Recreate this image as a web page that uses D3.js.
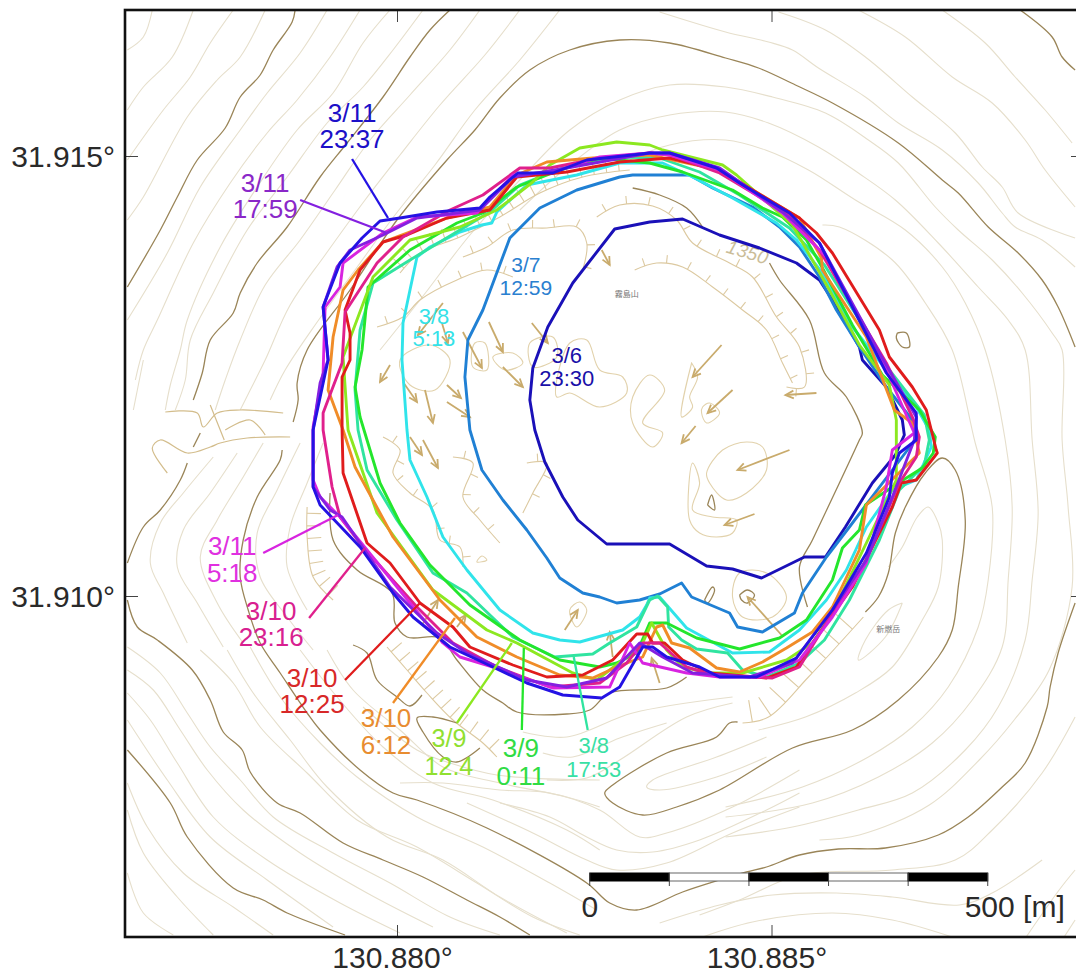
<!DOCTYPE html>
<html><head><meta charset="utf-8">
<style>html,body{margin:0;padding:0;background:#fff}svg{display:block}text{font-family:"Liberation Sans",Arial,sans-serif}</style>
<script src="https://cdn.jsdelivr.net/npm/d3@7/dist/d3.min.js"></script></head><body>
<script>
// Map axes
const lonTicks=[130.880,130.885];
const latTicks=[31.910,31.915];
// Local survey grid: [east, north] grid cells; graticule tie points below
const gridEastTie=[297,672];
const gridNorthTie=[404,844];

// Crater-lava outlines, one per observation
const obs0306=[[507,456],[570,456],[607,434],[633,431],[662,422],[705,443],[726,443],[746,473],[773,517],[796,545],[805,565],[803,580],[787,613],[763,640],[760,653],[733,700],[720,720],[697,737],[660,752],[620,765],[583,781],[550,778],[515,771],[473,717],[448,673],[433,632],[430,600],[435,570],[445,538],[463,503],[478,480]];
const obs0307=[[500,403],[517,397],[540,400],[560,406],[582,417],[592,403],[630,387],[638,373],[663,368],[695,387],[703,407],[727,443],[750,473],[793,530],[818,563],[813,580],[787,613],[760,653],[737,690],[720,723],[700,753],[680,773],[653,793],[613,812],[590,825],[533,825],[520,823],[477,810],[440,792],[410,762],[383,690],[368,660],[365,623],[370,570],[382,530],[403,500],[427,470],[447,442],[460,422],[483,407]];
const obs0308a=[[547,395],[540,383],[523,370],[480,358],[460,360],[433,367],[400,390],[367,430],[343,463],[327,503],[310,540],[307,570],[302,640],[303,677],[317,743],[330,753],[360,768],[382,775],[392,777],[397,788],[427,815],[477,825],[520,837],[563,837],[593,823],[633,802],[677,777],[697,760],[723,727],[753,673],[787,630],[817,593],[830,570],[832,553],[817,520],[793,510],[767,473],[747,430],[727,400],[700,370],[670,348],[633,347],[587,372],[560,403],[550,402]];
const obs0308b=[[297,480],[333,427],[367,407],[413,363],[455,343],[493,346],[510,357],[537,373],[550,400],[558,404],[568,393],[569,373],[582,360],[597,351],[628,347],[643,330],[667,323],[700,337],[725,360],[750,400],[780,460],[800,510],[825,535],[830,560],[825,585],[790,630],[760,680],[725,735],[690,772],[640,805],[600,828],[560,842],[520,843],[470,835],[420,815],[390,788],[350,764],[310,740],[273,717],[260,670],[255,610],[258,570],[267,530]];
const obs0309a=[[262,650],[255,613],[260,583],[280,517],[300,477],[330,435],[370,395],[420,360],[460,340],[500,333],[517,337],[537,347],[550,377],[567,377],[597,362],[640,351],[680,362],[707,380],[733,420],[743,452],[760,470],[766,495],[799,517],[823,532],[834,547],[836,563],[820,590],[783,625],[753,675],[723,732],[707,760],[683,783],[663,792],[633,810],[583,828],[550,837],[500,842],[460,830],[417,813],[383,787],[357,777],[310,750],[268,713]];
const obs0309b=[[450,835],[480,852],[517,858],[550,855],[563,850],[623,835],[637,825],[693,775],[730,710],[760,655],[790,615],[797,580],[797,555],[797,520],[767,457],[733,387],[713,357],[687,340],[643,327],[610,327],[583,333],[567,350],[552,377],[543,357],[527,343],[497,320],[473,327],[417,357],[387,370],[333,410],[277,487],[248,570],[243,643],[273,723],[310,760],[360,773],[397,790],[433,818]];
const obs0310a=[[258,730],[283,758],[347,782],[390,793],[417,825],[447,838],[493,842],[550,845],[620,830],[700,782],[722,742],[723,730],[767,663],[795,590],[813,577],[817,560],[820,547],[767,495],[760,450],[733,393],[713,368],[687,352],[663,338],[640,328],[617,332],[590,352],[572,357],[563,375],[557,373],[543,343],[517,333],[493,322],[460,325],[417,343],[377,363],[340,400],[293,463],[255,533],[243,570],[228,610],[233,663],[243,710]];
const obs0310b=[[245,690],[260,730],[283,758],[307,765],[347,782],[390,790],[417,823],[467,828],[520,838],[570,842],[620,830],[673,798],[700,782],[717,767],[733,747],[780,670],[790,643],[813,613],[827,590],[837,550],[838,547],[817,520],[802,517],[793,493],[753,413],[713,357],[697,333],[667,322],[610,327],[583,340],[565,357],[553,357],[548,366],[537,366],[513,340],[483,325],[447,323],[413,335],[370,353],[353,373],[320,397],[290,437],[267,457],[243,527],[242,570],[242,623],[250,640],[250,667]];
const obs0310c=[[245,688],[277,737],[303,763],[350,790],[383,805],[420,832],[450,832],[500,842],[550,847],[570,845],[620,827],[687,787],[720,750],[787,637],[813,583],[820,563],[817,543],[800,517],[767,440],[733,387],[700,333],[673,322],[613,325],[587,333],[560,357],[543,357],[527,337],[500,317],[450,313],[397,333],[353,357],[317,393],[263,453],[240,483],[232,513],[223,570],[223,587],[242,637]];
const obs0311a=[[243,737],[283,767],[317,783],[377,787],[413,825],[453,828],[500,843],[550,847],[570,845],[620,830],[683,787],[727,743],[787,630],[815,567],[793,550],[787,513],[767,437],[733,383],[700,340],[660,323],[620,323],[587,327],[543,337],[530,357],[510,313],[453,312],[393,333],[360,343],[343,357],[310,397],[267,450],[240,483],[220,503],[213,520],[213,573],[223,627],[225,693],[240,713]];
const obs0311b=[[250,750],[283,765],[317,782],[380,790],[413,823],[467,832],[550,847],[570,847],[620,832],[683,788],[720,757],[780,647],[817,583],[815,560],[793,503],[767,440],[733,390],[693,337],[650,323],[593,327],[563,343],[540,357],[507,322],[467,313],[427,320],[367,347],[337,367],[290,413],[242,483],[230,490],[213,513],[213,570],[220,617],[228,640],[223,693],[237,733]];
const obs0311c=[[280,779],[300,782],[337,788],[380,792],[390,803],[418,827],[453,827],[487,840],[550,847],[570,847],[617,832],[640,817],[690,787],[720,757],[753,693],[787,627],[817,587],[817,560],[800,547],[793,527],[790,503],[767,447],[733,390],[697,342],[657,323],[620,323],[600,333],[567,343],[553,353],[543,353],[520,313],[502,302],[463,305],[427,317],[393,333],[350,353],[313,383],[293,407],[260,453],[220,495],[213,513],[213,570],[228,640],[223,693],[240,737],[262,762]];

const obsSeries=[obs0306,obs0307,obs0308a,obs0308b,obs0309a,obs0309b,obs0310a,obs0310b,obs0310c,obs0311a,obs0311b,obs0311c];
const obsLines=[["3/6","23:30"],["3/7","12:59"],["3/8","5:13"],["3/8","17:53"],["3/9","0:11"],["3/9","12.4"],["3/10","6:12"],["3/10","12:25"],["3/10","23:16"],["3/11","5:18"],["3/11","17:59"],["3/11","23:37"]];
const obsColors=["#1a10b8","#2080d4","#30e4ea","#30e4a0","#24e62c","#8ce820","#f08c28","#e01c1c","#e0208c","#d824e0","#8420e0","#2412e4"];
const labelColors=["#1a10a8","#2a80d0","#34e2e8","#38e0a4","#30dc44","#90e030","#e88c30","#d82828","#d82090","#e030e0","#8a28c8","#1c10c8"];
const labelSizes=[22,21,22,22,26,25,26,26,26,26,26,26];
// label anchor: [east, north line 1, north line 2]
const labelAnchors=[[467,637,614],[426,728,705],[334,676,654],[494,247,223],[421,243,215],[349,253,225],[286,273,246],[212,313,287],[171,380,354],[132,445,418],[165,808,782],[252,878,852]];
// leader: from label to outline, null when there is none
const leaderLines=[null,null,null,[[488,270],[474,343]],[[422,270],[424,352]],[[357,277],[412,357]],[[293,297],[355,382]],[[245,320],[320,397]],[[209,382],[265,452]],[[163,447],[238,485]],[[200,800],[287,767]],[[252,841],[288,782]]];

// Index contours
const indexContours=[
[[195,990],[192,978],[173,950],[160,925],[140,903],[125,872],[97,840],[77,803],[60,770],[27,713]],
[[350,990],[330,970],[310,943],[283,903],[247,857],[220,823],[187,773],[157,737],[140,707],[133,687],[110,660],[102,627],[93,600]],
[[100,567],[93,553]],
[[87,537],[80,520],[60,490],[43,473],[27,437]],
[[193,578],[198,600],[197,617],[207,650],[250,710],[297,780],[347,840],[375,870],[400,902],[430,930],[470,950],[520,960],[570,957],[626,942],[659,932],[696,915],[733,897],[799,857],[843,820],[859,807],[889,773],[919,747],[943,720],[959,693],[976,653]],
[[182,550],[180,540],[157,503],[143,460],[140,423],[148,390],[160,357],[180,327],[207,287],[220,270],[260,230],[293,207],[317,200],[387,172],[487,117],[510,97],[537,90],[583,108],[620,120],[647,128],[667,133],[700,145],[739,151],[786,152],[839,165],[869,183],[903,213],[926,237],[948,293],[951,313],[959,347],[976,397]],
[[27,400],[37,373],[57,360],[92,330],[110,300],[123,268],[142,250],[150,228],[177,197],[200,187],[243,157],[283,140],[323,123],[367,100],[400,83],[430,65]],
[[27,250],[70,197],[87,163],[133,112],[163,100],[187,87],[245,65]],
[[921,990],[953,963],[963,943],[976,930]],
[[533,812],[560,805],[587,792],[603,773]],
[[670,737],[680,720],[710,680],[725,627],[747,603],[763,567],[760,560],[740,517],[713,460],[700,433],[708,393]],
[[766,388],[779,403],[789,427],[796,467],[806,493],[826,527],[843,542],[856,530],[866,480],[859,413],[853,370],[839,343],[799,300],[753,270],[693,252],[620,210],[577,193],[543,185],[513,197],[505,207],[513,215],[567,247],[617,263],[630,277],[638,278]],
[[230,507],[233,460],[257,430],[292,407],[295,377],[307,363],[340,362],[357,340],[383,310],[403,297],[417,288],[467,286],[490,290],[510,307],[567,312],[587,323]],
[[253,355],[267,347],[277,320],[297,303],[310,294],[322,305]],
[[380,252],[357,238],[343,243],[323,268],[317,282],[333,283],[357,277]],
[[798,667],[807,667],[810,653],[803,653],[797,662],[798,667]],
[[608,495],[615,490],[612,505],[608,495]],
[[640,405],[648,410],[655,405],[648,397],[642,400],[640,405]],
[[605,400],[613,413],[615,410],[608,397],[605,400]]
];

// Intermediate contours
const minorContours=[
[[52,990],[43,963],[27,950]],
[[93,990],[72,943],[43,913],[27,890]],
[[133,990],[110,957],[90,923],[63,890],[27,840]],
[[165,990],[140,943],[117,920],[87,883],[43,803],[27,780]],
[[227,990],[200,947],[167,907],[140,870],[100,813],[67,747],[27,680]],
[[260,990],[230,943],[197,900],[167,867],[130,817],[93,757],[57,680],[43,650],[35,620]],
[[290,990],[263,957],[233,907],[197,870],[157,813],[120,753],[87,680],[80,650],[70,615],[65,590]],
[[323,990],[293,950],[263,913],[227,877],[187,823],[147,770],[113,707],[90,660],[85,620],[75,590]],
[[380,990],[350,950],[310,905],[270,860],[235,810],[200,760],[165,715],[140,660],[125,620],[115,590]],
[[420,990],[385,945],[340,895],[300,845],[265,800],[225,745],[190,695],[165,640],[150,610],[140,590]],
[[460,990],[420,940],[375,890],[335,835],[295,785],[255,730],[215,675],[185,630],[170,600]],
[[560,988],[626,968],[669,958],[693,950],[719,932],[766,903],[799,877],[843,850],[879,817],[903,787],[916,773],[943,760],[976,733]],
[[679,988],[726,970],[766,943],[813,903],[856,867],[883,833],[903,813],[919,787],[976,762]],
[[759,990],[806,963],[853,923],[893,897],[926,860],[946,830],[976,793]],
[[843,990],[886,957],[916,923],[946,890],[973,857]],
[[280,650],[320,700],[370,765],[420,820],[470,870],[520,900],[570,915],[626,913],[673,903],[726,887],[769,860],[799,837],[836,793],[859,770],[893,740],[923,707],[953,667],[963,650],[963,560],[969,493],[973,413],[950,330],[915,280],[880,240],[830,195],[760,165],[720,160]],
[[420,790],[470,835],[520,870],[570,885],[626,888],[669,877],[719,853],[759,827],[796,800],[839,757],[879,713],[909,680],[926,650],[933,560],[939,487],[933,420],[926,360],[899,293],[866,250],[813,207],[759,190],[693,173],[626,163]],
[[530,840],[570,855],[626,860],[666,850],[709,830],[756,800],[806,770],[843,733],[866,697],[886,650],[906,560],[913,493],[909,420],[903,353],[873,300],[833,257],[779,223],[713,197],[626,183]],
[[723,775],[740,773],[793,740],[826,697],[853,650],[876,557],[893,493],[889,420],[879,373],[849,313],[813,273],[769,243],[703,213],[626,193]],
[[976,283],[943,227],[893,170],[856,140],[793,130],[700,125],[640,100],[600,85]],
[[560,77],[620,95],[673,105],[737,107],[793,103],[860,95],[893,107],[943,140]],
[[603,63],[653,78],[733,87],[793,80],[853,63]],
[[927,63],[960,110],[976,130]],
[[965,63],[976,80]],
[[447,220],[487,222],[520,240],[587,283],[633,297]],
[[443,247],[473,243],[520,262],[567,277]],
[[423,268],[467,263],[533,287],[633,303]],
[[300,217],[343,217],[400,210],[450,207],[500,190],[540,163],[567,167],[633,193],[700,230]],
[[667,263],[617,243],[553,220],[547,213],[560,210],[617,223],[667,243]],
[[400,197],[450,183],[487,163],[517,150],[553,148],[600,160],[667,190],[700,207]],
[[367,197],[433,167],[487,140],[517,130],[567,137],[633,167],[700,193]],
[[27,353],[60,327],[87,287],[110,253],[140,220],[173,183],[233,147],[290,117],[350,83],[400,65]],
[[27,330],[53,310],[80,270],[107,230],[143,190],[200,147],[267,107],[333,73]],
[[27,307],[50,280],[77,237],[113,183],[167,140],[240,97],[300,67]],
[[27,280],[67,220],[110,163],[167,120],[233,73]],
[[27,217],[47,173],[83,127],[133,93],[173,65]],
[[27,190],[43,147],[77,103],[113,65]],
[[27,127],[43,87],[73,65]],
[[100,350],[133,317],[160,273],[207,227],[257,180],[317,153],[377,117],[433,83],[480,65]],
[[127,350],[153,307],[190,260],[227,213],[287,163],[343,140],[400,103],[467,67]],
[[150,353],[180,303],[220,257],[257,223],[317,183],[383,153],[450,117],[497,90]],
[[200,350],[237,303],[283,253],[333,217],[393,200],[467,170],[500,150]],
[[227,350],[253,310],[300,270],[343,233],[400,217],[467,203],[500,193]],
[[263,293],[317,250],[350,237],[397,225],[500,220]],
[[113,543],[83,507],[60,477],[50,437],[63,407],[87,357]],
[[137,547],[110,507],[83,470],[77,433],[97,397],[123,353]],
[[163,557],[143,523],[117,480],[100,443],[117,397],[143,357]],
[[200,557],[177,510],[157,467],[160,423],[187,383],[213,350]],
[[223,557],[207,517],[190,473],[187,433],[207,390]],
[[43,640],[37,610],[33,590]],
[[789,433],[803,453],[818,483],[829,493],[839,477],[843,460],[839,413],[823,380],[793,333],[756,307],[706,283],[659,270]],
[[803,397],[786,363],[759,340],[766,360],[789,390],[803,397]]
];

// Crater-floor relief, with hachures on the ones flagged below
const reliefLines=[
[[277,673],[303,683],[320,700],[357,720],[387,730],[413,723]],
[[363,743],[387,753],[413,770],[447,772],[477,773],[487,757],[483,730]],
[[497,783],[520,795],[553,794],[577,780],[593,757],[630,737],[653,723],[677,683],[700,653],[705,613],[687,613]],
[[535,730],[557,737],[583,733],[613,713],[643,690],[667,670],[683,637],[693,617]],
[[283,563],[300,550],[293,527],[310,507],[333,490],[340,460],[360,453],[363,433]],
[[353,543],[373,537],[363,503],[380,480],[400,457]],
[[427,537],[447,537],[433,507],[423,487]],
[[300,727],[320,747],[360,763],[400,783],[440,807],[483,823],[530,830]],
[[643,277],[669,283],[709,323],[764,383]],
[[207,493],[207,463],[213,423],[233,400]],
[[287,353],[307,330],[327,307],[353,280],[383,257],[397,243]]
];
const reliefHachureLength=[8,8,8,8,8,8,8,14,22,14,14];
const reliefBlobs=[
[[533,577],[533,603],[550,625],[565,610],[543,577],[563,567],[553,553]],
[[592,637],[598,623],[590,603],[593,593],[582,583],[592,637]],
[[603,593],[610,597],[620,587],[607,577],[602,587]],
[[607,527],[623,550],[647,558],[663,553],[667,530],[647,507],[627,500],[610,517]],
[[593,537],[600,517],[593,490],[613,483],[637,480],[633,467],[617,463],[600,467],[590,480]],
[[640,427],[667,427],[687,403],[673,383],[643,383],[633,403]],
[[470,390],[480,398],[487,390],[477,373]],
[[375,657],[385,657],[387,630],[373,633]],
[[393,643],[413,647],[423,637],[405,630]],
[[430,657],[453,663],[457,643],[433,633]],
[[470,657],[487,660],[500,630],[523,623],[527,607],[500,593],[470,607],[457,603]],
[[300,640],[330,655],[350,640],[335,610],[310,615]],
[[382,444],[387,440],[377,438]]
];
const gullyLines=[
[[65,588],[97,587],[103,573],[117,587],[140,590],[183,587]],
[[190,563],[147,562],[120,557],[110,553],[87,547],[60,560],[52,552],[67,527]],
[[125,570],[150,580],[165,565]],
[[110,595],[118,575],[124,560]]
];
// Flow arrows: [tail, head]
const flowArrows=[
[[343,697],[318,665]],[[342,677],[348,657]],[[363,668],[382,632]],[[389,678],[403,648]],[[432,677],[448,657]],[[403,633],[423,613]],
[[290,635],[280,618]],[[303,618],[317,598]],[[325,610],[333,577]],[[347,615],[361,602]],[[347,598],[370,583]],[[502,750],[510,735]],
[[310,563],[322,545]],[[323,560],[338,532]],[[465,370],[478,390]],[[322,375],[338,400]],[[357,373],[366,385]],[[513,343],[510,368]],
[[622,655],[593,623]],[[633,610],[608,587]],[[596,574],[582,557]],[[690,550],[638,530]],[[717,607],[686,605]],[[655,486],[625,475]],[[682,365],[648,403]],[[560,317],[552,342]]
];
const scaleBarMetres=[0,100,200,300,400,500];
const scaleBarOrigin=[490,127];
const scaleBarLength=398;
const placeNames=[["霧島山",527,703],["新燃岳",789,368]];

const W=1076,H=974;
const x=d3.scaleLinear(lonTicks,[397,771.5]);
const y=d3.scaleLinear(latTicks,[596,156]);
const gE=d3.scaleLinear(gridEastTie,lonTicks);
const gN=d3.scaleLinear(gridNorthTie,latTicks);
const px=p=>x(gE(p[0])), py=p=>y(gN(p[1]));
const svg=d3.select("body").append("svg").attr("width",W).attr("height",H);
svg.append("defs").append("clipPath").attr("id","frame").append("rect").attr("x",125).attr("y",10).attr("width",965).attr("height",927);
const map=svg.append("g").attr("clip-path","url(#frame)");
const smooth=d3.line().x(px).y(py).curve(d3.curveCatmullRom.alpha(.5));
const straight=d3.line().x(px).y(py);
const closed=d3.line().x(px).y(py).curve(d3.curveCatmullRomClosed.alpha(.5));
const poly=d3.line().x(px).y(py).curve(d3.curveLinearClosed);

map.append("g").selectAll("path").data(minorContours).join("path").attr("d",smooth).attr("fill","none").attr("stroke","#e6dfcc").attr("stroke-width",1.1);
map.append("g").selectAll("path").data(gullyLines).join("path").attr("d",smooth).attr("fill","none").attr("stroke","#d3bd8c").attr("stroke-width",1.2);
map.append("g").selectAll("path").data(reliefBlobs).join("path").attr("d",closed).attr("fill","none").attr("stroke","#e2d2ac").attr("stroke-width",1.1);
const relief=map.append("g").attr("fill","none").attr("stroke","#dcc9a0").attr("stroke-width",1.1);
reliefLines.forEach((line,i)=>{
  const path=relief.append("path").attr("d",smooth(line));
  const node=path.node(), len=node.getTotalLength(), hl=reliefHachureLength[i], step=hl>10?hl*0.9:22;
  const teeth=d3.range(step/2,len,step).map(s=>{
    const a=node.getPointAtLength(s), b=node.getPointAtLength(Math.min(len,s+1));
    const dx=b.x-a.x, dy=b.y-a.y, m=Math.hypot(dx,dy)||1;
    return [[a.x,a.y],[a.x+dy/m*hl,a.y-dx/m*hl]];
  });
  relief.selectAll(null).data(teeth).join("path").attr("d",d3.line());
});
map.append("g").selectAll("path").data(indexContours).join("path").attr("d",smooth).attr("fill","none").attr("stroke","#9a8558").attr("stroke-width",1.3);
const arrows=map.append("g").attr("stroke","#c9ab6c").attr("stroke-width",1.8).attr("fill","none");
flowArrows.forEach(a=>{
  const x1=px(a[0]),y1=py(a[0]),x2=px(a[1]),y2=py(a[1]),t=Math.atan2(y2-y1,x2-x1),h=9;
  arrows.append("line").attr("x1",x1).attr("y1",y1).attr("x2",x2).attr("y2",y2);
  arrows.append("path").attr("d",d3.line()([[x2+h*Math.cos(t+2.7),y2+h*Math.sin(t+2.7)],[x2,y2],[x2+h*Math.cos(t-2.7),y2+h*Math.sin(t-2.7)]]));
});
map.append("text").attr("transform",`translate(${px([648,748])},${py([648,748])}) rotate(17)`).attr("text-anchor","middle").attr("dy","0.35em").attr("font-size",19).attr("font-style","italic").attr("fill","#cbbd98").text("1350");
map.selectAll(".place").data(placeNames).join("text").attr("class","place").attr("x",d=>px([d[1],0])).attr("y",d=>py([0,d[2]])).attr("text-anchor","middle").attr("font-size",8).attr("fill","#777").style("font-family","'Noto Sans CJK JP'").text(d=>d[0]);

// Outlines
map.append("g").selectAll("path").data(obsSeries).join("path").attr("d",poly).attr("fill","none").attr("stroke",(d,i)=>obsColors[i]).attr("stroke-width",2.9).attr("stroke-linejoin","round");
// Leaders
map.append("g").selectAll("path").data(leaderLines.map((d,i)=>({d,i})).filter(v=>v.d)).join("path").attr("d",v=>straight(v.d)).attr("fill","none").attr("stroke",v=>obsColors[v.i]).attr("stroke-width",2.3);
// Labels
const lab=map.append("g").attr("text-anchor","middle");
obsLines.forEach((t,i)=>{
  const a=labelAnchors[i];
  t.forEach((s,j)=>lab.append("text").attr("x",px([a[0],0])).attr("y",py([0,a[j+1]])).attr("font-size",labelSizes[i]).attr("fill",labelColors[i]).text(s));
});

// Scale bar
const sx=d3.scaleLinear([0,500],[0,scaleBarLength]);
const ox=px(scaleBarOrigin), oy=py(scaleBarOrigin);
const bar=svg.append("g").attr("transform",`translate(${ox},${oy})`);
bar.selectAll("rect").data(d3.pairs(scaleBarMetres)).join("rect").attr("x",d=>sx(d[0])).attr("y",0).attr("width",d=>sx(d[1])-sx(d[0])).attr("height",8).attr("fill",(d,i)=>i%2?"#fff":"#000").attr("stroke",(d,i)=>i%2?"#666":"#000").attr("stroke-width",1);
bar.selectAll("line").data(scaleBarMetres).join("line").attr("x1",d=>sx(d)).attr("x2",d=>sx(d)).attr("y1",0).attr("y2",13).attr("stroke","#444").attr("stroke-width",1);
bar.append("text").attr("x",sx(0)).attr("y",44).attr("text-anchor","middle").attr("font-size",30).attr("fill","#2a2a2a").text("0");
bar.append("text").attr("x",sx(500)+77).attr("y",44).attr("text-anchor","end").attr("font-size",30).attr("fill","#2a2a2a").text("500 [m]");

// Frame and axes
const deg=d3.format(".3f");
const fmt=d=>deg(d)+"°";
const styleAxis=g=>{g.select(".domain").remove();g.selectAll("line").attr("stroke","#444").attr("stroke-width",1);};
svg.append("g").attr("transform","translate(0,937)").call(d3.axisBottom(x).tickValues(lonTicks).tickSizeInner(-12).tickSizeOuter(0).tickFormat(fmt)).call(styleAxis)
  .call(g=>g.selectAll("text").attr("font-size",30).attr("fill","#2a2a2a").attr("y",31).attr("dy",0).attr("dx",-5).style("font-family","'Liberation Sans'"));
svg.append("g").attr("transform","translate(0,10)").call(d3.axisTop(x).tickValues(lonTicks).tickSizeInner(-12).tickSizeOuter(0).tickFormat("")).call(styleAxis);
svg.append("g").attr("transform","translate(125,0)").call(d3.axisLeft(y).tickValues(latTicks).tickSizeInner(-13).tickSizeOuter(0).tickFormat(fmt)).call(styleAxis)
  .call(g=>g.selectAll("text").attr("font-size",30).attr("fill","#2a2a2a").attr("x",-10).attr("dy",10).style("font-family","'Liberation Sans'"));
svg.append("g").attr("transform","translate(1084,0)").call(d3.axisRight(y).tickValues(latTicks).tickSizeInner(-13).tickSizeOuter(0).tickFormat("")).call(styleAxis);
svg.append("rect").attr("x",125).attr("y",10).attr("width",959).attr("height",927).attr("fill","none").attr("stroke","#111").attr("stroke-width",2.6);
</script></body></html>
